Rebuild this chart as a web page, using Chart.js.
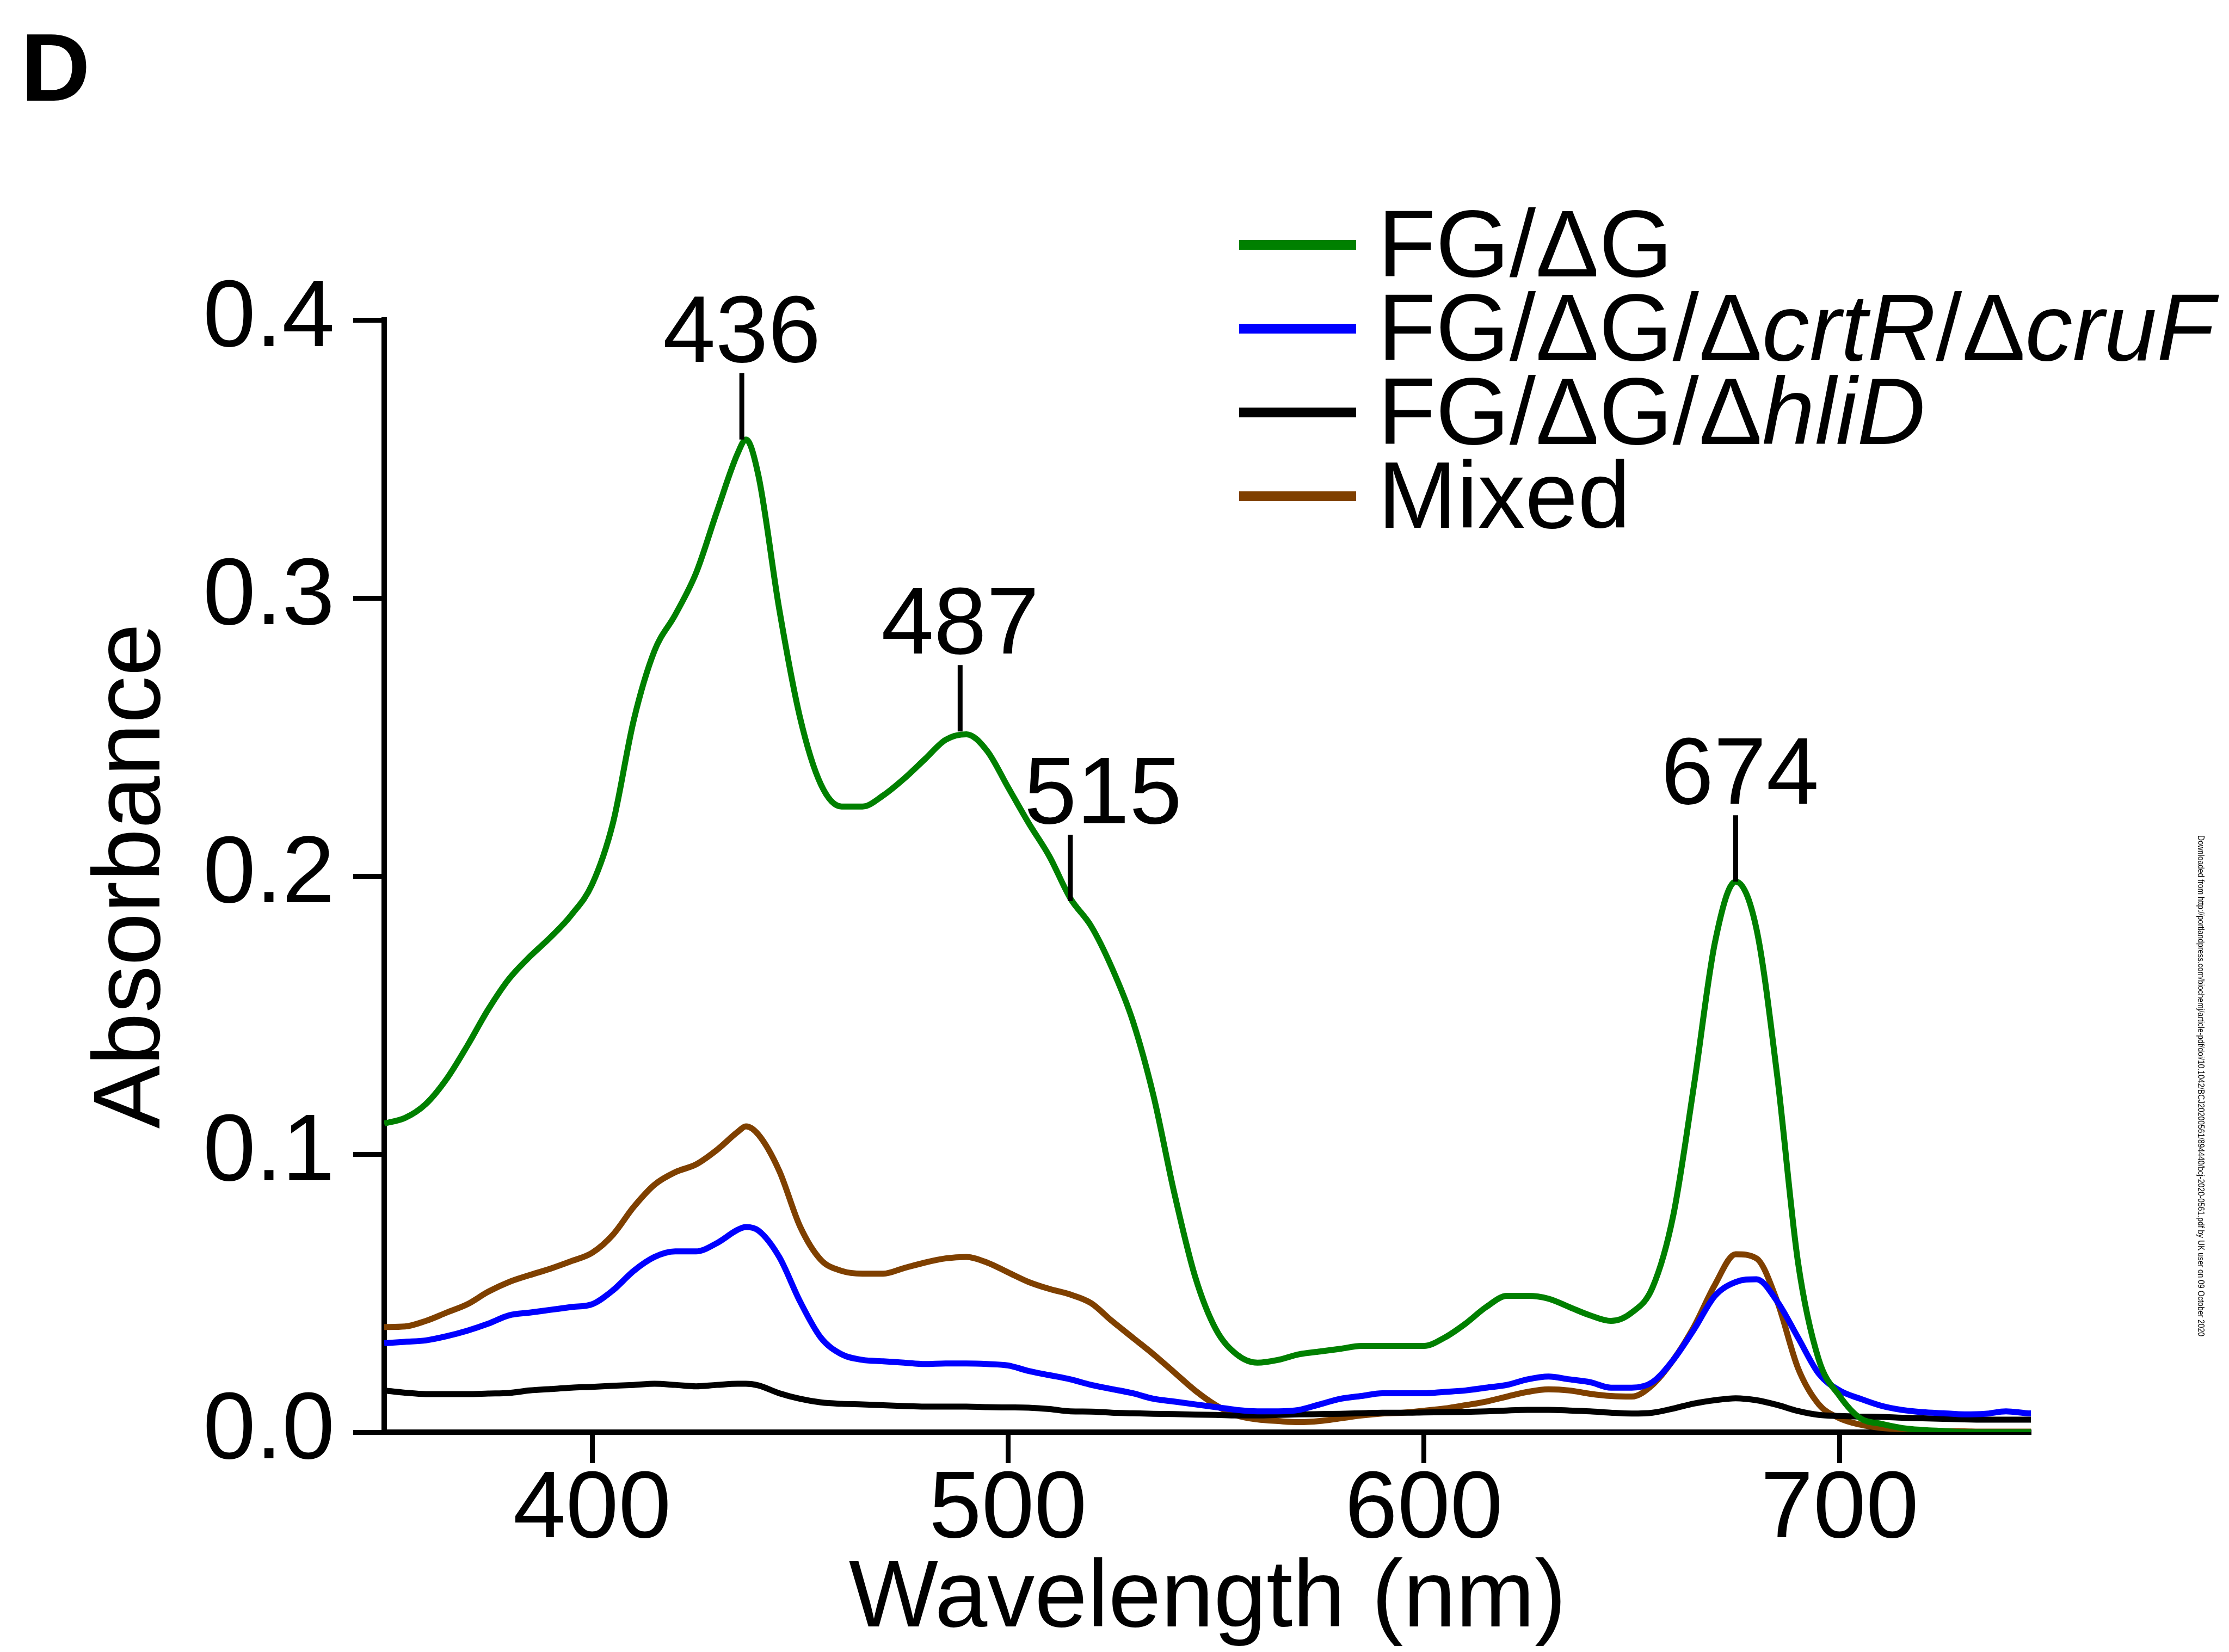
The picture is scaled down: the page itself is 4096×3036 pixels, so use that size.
<!DOCTYPE html>
<html>
<head>
<meta charset="utf-8">
<title>Absorbance spectra</title>
<script src="https://cdn.jsdelivr.net/npm/chart.js@4.4.1/dist/chart.umd.min.js"></script>
<style>
  html, body { margin: 0; padding: 0; background: #fff; }
  #wrap { width: 4096px; height: 3036px; }
</style>
</head>
<body>
<div id="wrap"><canvas id="spectra" width="4096" height="3036"></canvas></div>
<script>
// 波长 (nm)
const wavelengths = [350, 355, 360, 365, 370, 375, 380, 385, 390, 395, 400, 405, 410, 415, 420, 425, 430, 435, 437,
  440, 445, 450, 455, 460, 465, 470, 475, 480, 485, 490, 495, 500, 505, 510, 515, 520, 525, 530, 535, 540,
  545, 550, 555, 560, 565, 570, 575, 580, 585, 590, 595, 600, 605, 610, 615, 620, 625, 630, 635, 640,
  645, 650, 655, 660, 665, 670, 675, 680, 685, 690, 695, 700, 705, 710, 715, 720, 725, 730, 735, 740, 745, 747];

// 吸光度 FG/ΔG
const absFG = [0.111, 0.113, 0.118, 0.127, 0.139, 0.152, 0.163, 0.171, 0.178, 0.186, 0.197, 0.219, 0.256, 0.281, 0.294, 0.309, 0.331, 0.352, 0.357,
  0.344, 0.296, 0.257, 0.233, 0.225, 0.225, 0.229, 0.235, 0.242, 0.249, 0.251, 0.245, 0.232, 0.219, 0.207, 0.192, 0.182, 0.167, 0.148, 0.121, 0.086,
  0.056, 0.037, 0.028, 0.025, 0.026, 0.028, 0.029, 0.030, 0.031, 0.031, 0.031, 0.031, 0.034, 0.039, 0.045, 0.049, 0.049, 0.048, 0.045, 0.042,
  0.040, 0.043, 0.052, 0.078, 0.125, 0.176, 0.198, 0.181, 0.128, 0.061, 0.026, 0.013, 0.005, 0.003, 0.0015, 0.0008, 0.0004, 0, 0, 0, 0, 0];

// 吸光度 FG/ΔG/ΔcrtR/ΔcruF
const absCrtRCruF = [0.032, 0.0325, 0.033, 0.0345, 0.0365, 0.039, 0.042, 0.043, 0.044, 0.045, 0.046, 0.051, 0.058, 0.063, 0.065, 0.065, 0.068, 0.0728, 0.0738,
  0.0725, 0.063, 0.047, 0.034, 0.028, 0.026, 0.0255, 0.025, 0.0245, 0.0247, 0.0247, 0.0245, 0.024, 0.022, 0.0205, 0.019, 0.017, 0.0155, 0.014, 0.012, 0.011,
  0.010, 0.009, 0.008, 0.0075, 0.0075, 0.008, 0.010, 0.012, 0.013, 0.014, 0.014, 0.014, 0.0145, 0.015, 0.016, 0.017, 0.019, 0.020, 0.019, 0.018,
  0.016, 0.016, 0.018, 0.026, 0.037, 0.049, 0.054, 0.055, 0.047, 0.034, 0.021, 0.015, 0.012, 0.0095, 0.008, 0.0072, 0.0068, 0.0064, 0.0066, 0.0075, 0.0068, 0.0067];

// 吸光度 FG/ΔG/ΔhliD
const absHliD = [0.015, 0.0142, 0.0137, 0.0137, 0.0137, 0.0139, 0.0141, 0.015, 0.0155, 0.016, 0.0163, 0.0167, 0.017, 0.0174, 0.017, 0.0165, 0.017, 0.0174, 0.0174,
  0.0168, 0.014, 0.012, 0.0107, 0.0102, 0.010, 0.0097, 0.0094, 0.0092, 0.0092, 0.0092, 0.009, 0.0089, 0.0088, 0.0083, 0.0075, 0.0074, 0.007, 0.0068, 0.0066, 0.0065,
  0.0063, 0.0062, 0.006, 0.006, 0.0062, 0.0064, 0.0065, 0.0066, 0.0068, 0.007, 0.007, 0.0071, 0.0072, 0.0073, 0.0075, 0.0078, 0.008, 0.008, 0.0078, 0.0075,
  0.007, 0.0067, 0.007, 0.0085, 0.0103, 0.0115, 0.0122, 0.0115, 0.0098, 0.0076, 0.0062, 0.0058, 0.0056, 0.0055, 0.0052, 0.005, 0.0048, 0.0046, 0.0045, 0.0045, 0.0045, 0.0045];

// 吸光度 Mixed
const absMixed = [0.0378, 0.038, 0.040, 0.043, 0.046, 0.0505, 0.054, 0.0565, 0.0588, 0.0615, 0.0645, 0.071, 0.081, 0.089, 0.0935, 0.0963, 0.1015, 0.108, 0.110,
  0.107, 0.094, 0.074, 0.062, 0.058, 0.057, 0.057, 0.059, 0.061, 0.0625, 0.063, 0.061, 0.0575, 0.054, 0.0515, 0.0495, 0.0464, 0.040, 0.034, 0.028, 0.0215,
  0.015, 0.0097, 0.006, 0.0046, 0.004, 0.0036, 0.004, 0.005, 0.006, 0.0067, 0.007, 0.0077, 0.0085, 0.0097, 0.011, 0.0128, 0.0145, 0.0154, 0.015, 0.0138,
  0.013, 0.0128, 0.017, 0.026, 0.038, 0.053, 0.064, 0.0625, 0.047, 0.023, 0.010, 0.005, 0.0027, 0.0015, 0.001, 0.0006, 0.0004, 0.0003, 0.0002, 0.0002, 0.0002, 0.0002];

const seriesLabels = ['FG/ΔG', 'FG/ΔG/ΔcrtR/ΔcruF', 'FG/ΔG/ΔhliD', 'Mixed'];
const seriesValues = [absFG, absCrtRCruF, absHliD, absMixed];
const italicParts = ['crtR', 'cruF', 'hliD'];

const xTicks = [400, 500, 600, 700];
const yTicks = [0, 0.1, 0.2, 0.3, 0.4];

// 峰位标注（标记位置按原图）
const peakLabels = ['436', '487', '515', '674'];
const peakWl = [436, 488.5, 515, 675];
const peakAbs = [0.357, 0.252, 0.191, 0.198];

const watermark = 'Downloaded from http://portlandpress.com/biochemj/article-pdf/doi/10.1042/BCJ20200561/894440/bcj-2020-0561.pdf by UK user on 09 October 2020';

const seriesColors = ['#008000', '#0000ff', '#000000', '#7f4000'];
const FONT = "'Liberation Sans', Arial, Helvetica, sans-serif";
const FS = 174;

function toPoints(values) {
  return wavelengths.map((wl, i) => ({ x: wl, y: values[i] }));
}

// 斜体分段绘制
function drawRich(ctx, text, x, y) {
  const re = new RegExp('(' + italicParts.join('|') + ')');
  text.split(re).filter(s => s).forEach(part => {
    ctx.font = (italicParts.includes(part) ? 'italic ' : '') + FS + 'px ' + FONT;
    ctx.fillText(part, x, y);
    x += ctx.measureText(part).width;
  });
}

const peakPlugin = {
  id: 'peakMarks',
  afterDatasetsDraw(chart) {
    const ctx = chart.ctx;
    const xs = chart.scales.x;
    const ys = chart.scales.y;
    const labelShift = { '515': 60, '674': 8 };
    ctx.save();
    ctx.strokeStyle = '#000';
    ctx.fillStyle = '#000';
    ctx.lineWidth = 9;
    ctx.font = FS + 'px ' + FONT;
    ctx.textAlign = 'center';
    ctx.textBaseline = 'alphabetic';
    peakWl.forEach((wl, i) => {
      const px = xs.getPixelForValue(wl);
      const py = ys.getPixelForValue(peakAbs[i]);
      ctx.beginPath();
      ctx.moveTo(px, py);
      ctx.lineTo(px, py - 122);
      ctx.stroke();
      ctx.fillText(peakLabels[i], px + (labelShift[peakLabels[i]] || 0), py - 122 - 21);
    });
    ctx.restore();
  }
};

const decorPlugin = {
  id: 'decor',
  afterDraw(chart) {
    const ctx = chart.ctx;
    ctx.save();
    ctx.fillStyle = '#000';
    ctx.textAlign = 'left';
    ctx.textBaseline = 'alphabetic';

    // 图例
    chart.data.datasets.forEach((ds, i) => {
      const y = 450 + i * 154;
      ctx.strokeStyle = ds.borderColor;
      ctx.lineWidth = 18;
      ctx.beginPath();
      ctx.moveTo(2277, y);
      ctx.lineTo(2492, y);
      ctx.stroke();
      drawRich(ctx, ds.label, 2532, y + 58);
    });

    // 面板标签
    ctx.font = 'bold 177px ' + FONT;
    ctx.fillText('D', 38, 185);

    // 右侧下载水印
    ctx.translate(4043, 1535);
    ctx.rotate(Math.PI / 2);
    ctx.font = '16px ' + FONT;
    ctx.textBaseline = 'middle';
    ctx.fillText(watermark, 0, 0, 921);
    ctx.restore();
  }
};

const axisFont = { family: FONT, size: FS, lineHeight: 1 };

new Chart(document.getElementById('spectra'), {
  type: 'line',
  data: {
    datasets: seriesLabels.map((label, i) => ({
      label: label,
      data: toPoints(seriesValues[i]),
      borderColor: seriesColors[i],
      backgroundColor: seriesColors[i],
      borderWidth: 11,
      pointRadius: 0,
      cubicInterpolationMode: 'monotone',
      fill: false
    }))
  },
  options: {
    responsive: false,
    devicePixelRatio: 1,
    animation: false,
    layout: { padding: { left: 0, right: 364, top: 588, bottom: 0 } },
    plugins: {
      legend: { display: false },
      tooltip: { enabled: false }
    },
    scales: {
      x: {
        type: 'linear',
        min: 350,
        max: 746,
        afterBuildTicks: s => { s.ticks = xTicks.map(v => ({ value: v })); },
        afterFit: s => { s.height = 404; },
        border: { display: true, color: '#000', width: 10 },
        grid: { drawOnChartArea: false, drawTicks: true, tickLength: 57, tickWidth: 9, tickColor: '#000', color: '#000' },
        ticks: { color: '#000', font: axisFont, padding: 1, maxRotation: 0, autoSkip: false },
        title: { display: true, text: 'Wavelength (nm)', color: '#000', font: axisFont, padding: { top: 0, bottom: 8 } }
      },
      y: {
        type: 'linear',
        min: 0,
        max: 0.4,
        afterBuildTicks: s => { s.ticks = yTicks.map(v => ({ value: v })); },
        afterFit: s => { s.width = 706; },
        border: { display: true, color: '#000', width: 10 },
        grid: { drawOnChartArea: false, drawTicks: true, tickLength: 57, tickWidth: 9, tickColor: '#000', color: '#000' },
        ticks: { color: '#000', font: axisFont, padding: 34, callback: v => Number(v).toFixed(1) },
        title: { display: true, text: 'Absorbance', color: '#000', font: axisFont, padding: { top: 158, bottom: 0 } }
      }
    }
  },
  plugins: [peakPlugin, decorPlugin]
});
</script>
</body>
</html>
